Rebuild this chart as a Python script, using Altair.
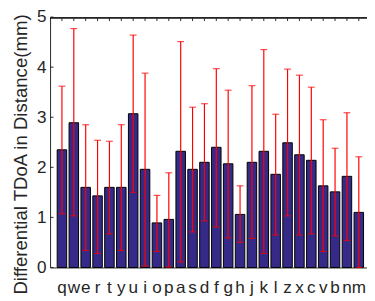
import altair as alt
import pandas as pd

keys = list("qwertyuiopasdfghjklzxcvbnm")
means = [2.35, 2.89, 1.60, 1.43, 1.60, 1.60, 3.07, 1.96, 0.89, 0.96, 2.32, 1.96, 2.10,
         2.40, 2.07, 1.06, 2.10, 2.32, 1.86, 2.49, 2.25, 2.14, 1.63, 1.51, 1.82, 1.10]
lows = [1.07, 1.03, 0.34, 0.28, 0.67, 0.34, 1.50, 0.03, 0.32, 0.01, 0.11, 0.71, 0.93,
        0.81, 0.59, 0.50, 0.58, 0.28, 0.65, 1.03, 0.65, 0.67, 0.32, 0.63, 0.54, 0.00]
highs = [3.62, 4.77, 2.85, 2.54, 2.52, 2.85, 4.64, 3.88, 1.44, 1.89, 4.51, 3.20, 3.27,
         3.97, 3.54, 1.63, 3.63, 4.35, 3.06, 3.96, 3.84, 3.60, 2.95, 2.38, 3.09, 2.21]
y_ticks = [0, 1, 2, 3, 4, 5]

df = pd.DataFrame({"key": keys, "mean": means, "low": lows, "high": highs})
tick_df = pd.DataFrame({"t": y_ticks})

FONT = "Liberation Sans"
TXT = "#262626"
TITLE = "Differential TDoA in Distance(mm)"
W, H = 324, 256

xscale = alt.Scale(paddingInner=0.2, paddingOuter=0.445, align=0.674)
x_axis = alt.Axis(title=None, labelAngle=0, ticks=False, labelPadding=26,
                  labelBaseline="alphabetic", labelFontSize=17.5, labelColor=TXT,
                  labelFont=FONT, domainColor=TXT, labelOverlap=False)
x_enc = alt.X("key:N", sort=keys, scale=xscale, axis=x_axis)
yscale = alt.Scale(domain=[0, 5], nice=False, zero=True)

y_axis = alt.Axis(values=y_ticks, ticks=False, labelPadding=4, grid=False,
                  labelFontSize=17.5, labelColor=TXT, labelFont=FONT, domainColor=TXT,
                  titleFontSize=19, titleFontWeight="normal", titleFont=FONT,
                  titleColor=TXT, titleAngle=270, titleX=-24.5, titleY=140,
                  titleAlign="center", titleBaseline="alphabetic")


def yenc(field):
    return alt.Y(field, scale=yscale, axis=y_axis, title=TITLE)


bars = alt.Chart(df).mark_bar(fill="#352a87", stroke="#000000", strokeWidth=1).encode(
    x=x_enc, y=yenc("mean:Q")
)
err = alt.Chart(df).mark_rule(color="#ff0000", strokeWidth=1.2).encode(
    x=x_enc, y=yenc("low:Q"), y2="high:Q"
)
cap_lo = alt.Chart(df).mark_tick(color="#ff0000", size=7, thickness=1.2).encode(
    x=x_enc, y=yenc("low:Q")
)
cap_hi = alt.Chart(df).mark_tick(color="#ff0000", size=7, thickness=1.2).encode(
    x=x_enc, y=yenc("high:Q")
)
top_line = alt.Chart(df).mark_rule(color=TXT, strokeWidth=1).encode(
    x=alt.value(0), x2=alt.value(W), y=alt.value(0.5)
)
top_ticks = alt.Chart(df).mark_rule(color=TXT, strokeWidth=1).encode(
    x=x_enc, y=alt.value(0.5), y2=alt.value(4)
)
left_ticks = alt.Chart(tick_df).mark_rule(color=TXT, strokeWidth=1).encode(
    y=yenc("t:Q"), x=alt.value(0.5), x2=alt.value(3.5)
)

chart = alt.layer(bars, err, cap_lo, cap_hi, top_line, top_ticks, left_ticks).properties(
    width=W, height=H,
    autosize=alt.AutoSizeParams(type="none"),
    padding={"left": 43, "top": 6, "right": 0, "bottom": 31},
    background="white",
).configure_view(stroke=None)

chart.save("out.html", embed_options={"renderer": "svg", "actions": False})
